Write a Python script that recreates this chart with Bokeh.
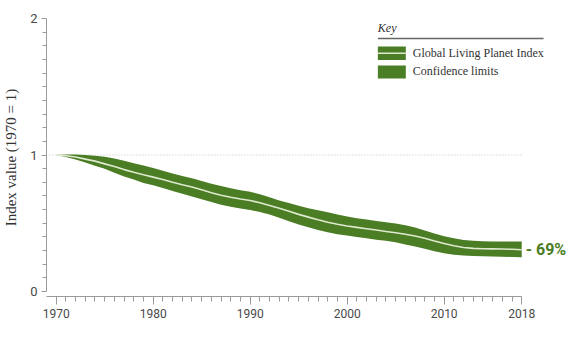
from bokeh.plotting import figure
from bokeh.models import FixedTicker, Label, ColumnDataSource
from bokeh.embed import file_html
from bokeh.resources import INLINE

# ---------------- data ----------------
years = list(range(1970, 2019))
index_value = [1.000, 0.995, 0.985, 0.970, 0.955, 0.935, 0.915, 0.893, 0.873, 0.855,
               0.838, 0.820, 0.800, 0.782, 0.765, 0.745, 0.724, 0.705, 0.690, 0.678,
               0.667, 0.650, 0.630, 0.610, 0.588, 0.565, 0.545, 0.525, 0.508, 0.493,
               0.480, 0.470, 0.460, 0.450, 0.440, 0.430, 0.420, 0.407, 0.390, 0.370,
               0.352, 0.335, 0.322, 0.316, 0.313, 0.312, 0.311, 0.309, 0.306]
upper_ci = [1.000, 1.003, 1.003, 1.000, 0.995, 0.987, 0.975, 0.957, 0.940, 0.923,
            0.905, 0.885, 0.864, 0.846, 0.830, 0.810, 0.790, 0.772, 0.757, 0.742,
            0.730, 0.712, 0.690, 0.667, 0.648, 0.628, 0.610, 0.595, 0.580, 0.565,
            0.550, 0.537, 0.527, 0.516, 0.508, 0.498, 0.485, 0.468, 0.447, 0.425,
            0.405, 0.390, 0.378, 0.372, 0.369, 0.367, 0.366, 0.366, 0.366]
lower_ci = [1.000, 0.985, 0.967, 0.945, 0.922, 0.900, 0.870, 0.843, 0.820, 0.795,
            0.778, 0.758, 0.737, 0.716, 0.696, 0.676, 0.655, 0.636, 0.620, 0.608,
            0.597, 0.583, 0.565, 0.540, 0.515, 0.490, 0.470, 0.450, 0.434, 0.420,
            0.410, 0.400, 0.390, 0.380, 0.372, 0.360, 0.345, 0.330, 0.313, 0.295,
            0.280, 0.270, 0.264, 0.260, 0.258, 0.257, 0.255, 0.253, 0.251]
x_major_ticks = [1970, 1980, 1990, 2000, 2010, 2018]
y_major_ticks = [0, 1, 2]
change_label = "- 69%"
legend_title = "Key"
legend_labels = ["Global Living Planet Index", "Confidence limits"]

# ---------------- styling / layout ----------------
GREEN = "#4a7d24"
LIGHT = "#dfe9cf"
AXIS = "#9a9a9a"
TICKTXT = "#4a4a4a"
SANS_N = "Roboto"
SERIF = "Liberation Serif"

W, H = 570, 338
LEFT, RIGHT, TOP, BOTTOM = 45, 0, 18, 42
PX_PER_YEAR = 9.717
X0 = 1969
X1 = X0 + (W - LEFT - RIGHT) / PX_PER_YEAR
Y0, Y1 = -0.0366, 2.0

p = figure(width=W, height=H, output_backend="svg", toolbar_location=None,
           x_range=(X0, X1), y_range=(Y0, Y1),
           min_border_left=LEFT, min_border_right=RIGHT,
           min_border_top=TOP, min_border_bottom=BOTTOM)
p.outline_line_color = None
p.xgrid.visible = False
p.ygrid.visible = False
p.background_fill_color = "white"
p.border_fill_color = "white"

fw = W - LEFT - RIGHT
fh = H - TOP - BOTTOM
def px_x(px):
    return X0 + (px - LEFT) / fw * (X1 - X0)
def px_y(py):
    return Y1 - (py - TOP) / fh * (Y1 - Y0)

# dotted reference line at 1
p.line(x=[X0 + 0.3, years[-1]], y=[1, 1], line_color="#c4c4c4",
       line_width=1, line_dash="1 2")

src = ColumnDataSource(dict(x=years, c=index_value, lo=lower_ci, hi=upper_ci))
p.varea(x="x", y1="lo", y2="hi", source=src, fill_color=GREEN)
p.line(x="x", y="c", source=src, line_color=LIGHT, line_width=1.6)

# axes
xa = p.xaxis[0]
xa.ticker = FixedTicker(ticks=x_major_ticks,
                        minor_ticks=[y for y in years if y not in x_major_ticks])
xa.bounds = (X0, years[-1])
xa.axis_line_color = AXIS
xa.major_tick_line_color = AXIS
xa.minor_tick_line_color = AXIS
xa.major_tick_out = 8
xa.major_tick_in = 0
xa.minor_tick_out = 5
xa.minor_tick_in = 0
xa.major_label_text_font = SANS_N
xa.major_label_text_font_size = "12px"
xa.major_label_text_color = TICKTXT
xa.major_label_standoff = 4

ya = p.yaxis[0]
ya.ticker = FixedTicker(ticks=y_major_ticks,
                        minor_ticks=[i / 10 for i in range(1, 20) if i != 10])
ya.bounds = (0, 2)
ya.axis_line_color = AXIS
ya.major_tick_line_color = AXIS
ya.minor_tick_line_color = AXIS
ya.major_tick_out = 5
ya.major_tick_in = 0
ya.minor_tick_out = 4
ya.minor_tick_in = 0
ya.major_label_text_font = SANS_N
ya.major_label_text_font_size = "13px"
ya.major_label_text_color = TICKTXT
ya.major_label_standoff = 4
ya.axis_label = "Index value (1970 = 1)"
ya.axis_label_text_font = SERIF
ya.axis_label_text_font_style = "normal"
ya.axis_label_text_font_size = "15px"
ya.axis_label_text_color = "#333333"
ya.axis_label_standoff = 8

# change label
p.add_layout(Label(x=years[-1], y=index_value[-1], text=change_label, x_offset=4,
                   text_baseline="middle", text_align="left",
                   text_font=SANS_N, text_font_style="bold",
                   text_font_size="16px", text_color=GREEN))

# key / legend
p.add_layout(Label(x=px_x(377), y=px_y(27), text=legend_title, text_baseline="middle",
                   text_font=SERIF, text_font_style="italic", text_font_size="12px",
                   text_color="#333333"))
p.line(x=[px_x(377), px_x(543)], y=[px_y(38), px_y(38)], line_color="#666666", line_width=1.5)
p.quad(left=[px_x(377)], right=[px_x(405)], top=[px_y(46)], bottom=[px_y(59.5)],
       fill_color=GREEN, line_color=None)
p.line(x=[px_x(377), px_x(405)], y=[px_y(52.8), px_y(52.8)], line_color=LIGHT, line_width=1.6)
p.quad(left=[px_x(377)], right=[px_x(405)], top=[px_y(65)], bottom=[px_y(78)],
       fill_color=GREEN, line_color=None)
for lbl, py in zip(legend_labels, [52, 70]):
    p.add_layout(Label(x=px_x(412), y=px_y(py), text=lbl, text_baseline="middle",
                       text_font=SERIF, text_font_size="12px", text_color="#333333"))

open("out.html", "w").write(file_html(p, INLINE))
